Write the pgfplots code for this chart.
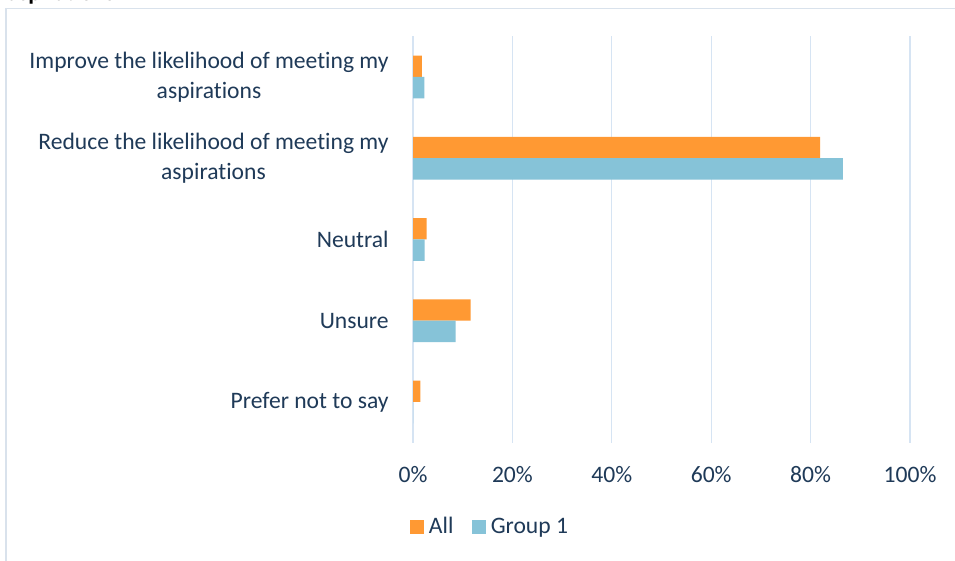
\documentclass[border=0pt]{standalone}
\usepackage{fontspec}
\setmainfont[Ligatures={NoCommon}]{Carlito}
\usepackage{pgfplots}
\pgfplotsset{compat=1.18}
\definecolor{allc}{RGB}{255,153,51}
\definecolor{grpc}{RGB}{134,195,216}
\definecolor{txt}{RGB}{31,58,88}
\definecolor{gridc}{RGB}{214,228,243}
\definecolor{framec}{RGB}{217,226,236}

\begin{document}
\begin{tikzpicture}[x=0.75pt,y=-0.75pt]
\useasboundingbox (0,0) rectangle (955,560);
\clip (0,0) rectangle (955,560);
\fill[white] (0,0) rectangle (955,560);
% cut-off title and chart frame
\node[anchor=base west,inner sep=0pt,text=black,font=\fontsize{17.7}{21}\selectfont\bfseries] at (7,0.5) {aspirations};
\draw[framec,line width=1.1pt] (6,8.5) rectangle (970,580);
\coordinate (o) at (413,442.6);
\begin{axis}[
    at={(o)}, anchor=south west,
    scale only axis,
    width=372.75pt, height=304.7pt,
    xbar,
    xmin=0, xmax=100,
    ymin=-0.5, ymax=4.5,
    bar width=0.262,
    xtick={0,20,40,60,80,100},
    xticklabels={0\%,20\%,40\%,60\%,80\%,100\%},
    ytick={0,1,2,3,4},
    yticklabels={Prefer not to say, Unsure, Neutral,
        {Reduce the likelihood of meeting my\\aspirations},
        {Improve the likelihood of meeting my\\aspirations}},
    xmajorgrids,
    major grid style={gridc, line width=1pt},
    axis line style={draw=none},
    tick style={draw=none},
    tick label style={text=txt, font=\fontsize{17.7}{22.5}\selectfont},
    xticklabel style={yshift=-14pt},
    yticklabel style={align=center, xshift=-10.5pt},
    legend style={at={(0.156,-0.207)}, anchor=center, draw=none,
        legend columns=2, font=\fontsize{17.7}{21}\selectfont, text=txt,
        /tikz/every even column/.append style={column sep=12pt}},
    legend image code/.code={\fill[#1] (0pt,-5.2pt) rectangle (10.5pt,5.2pt);
        \path (12pt,0pt);},
]
\addplot[fill=allc, draw=none, bar shift=0.131] coordinates {
    (1.5,0) (11.6,1) (2.75,2) (81.9,3) (1.8,4)};
\addplot[fill=grpc, draw=none, bar shift=-0.131] coordinates {
    (0,0) (8.6,1) (2.35,2) (86.5,3) (2.3,4)};
\legend{All, Group 1}
\end{axis}
\end{tikzpicture}
\end{document}
